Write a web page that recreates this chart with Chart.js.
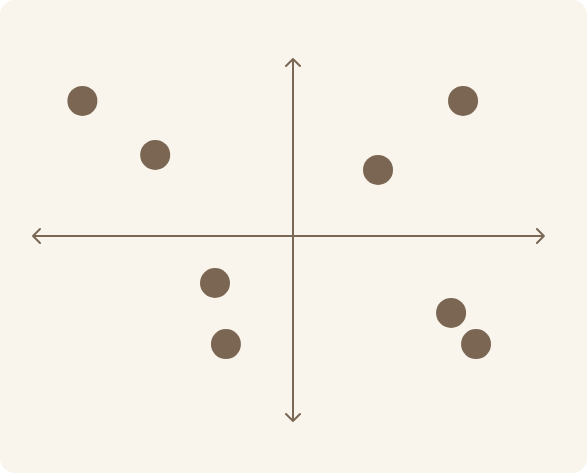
<!DOCTYPE html>
<html>
<head>
<meta charset="utf-8">
<script src="https://cdn.jsdelivr.net/npm/chart.js@4"></script>
<style>
  html, body { margin: 0; padding: 0; background: #ffffff; }
  #wrap { width: 587px; height: 473px; background: #f9f4ec; border-radius: 15px; overflow: hidden; }
</style>
</head>
<body>
<div id="wrap"><canvas id="quadChart" width="587" height="473"></canvas></div>
<script>
// point positions in chart units
const pointX = [-8.1, -5.3, 3.27, 6.54, -3.0, -2.58, 6.08, 7.04];
const pointY = [7.3, 4.38, 3.57, 7.3, -2.54, -5.84, -4.16, -5.84];

// where the arrow tips of each axis end
const xAxisEnds = [-10, 9.65];
const yAxisEnds = [-10, 9.57];

const inkColor = '#7a6856';

const quadAxes = {
    id: 'quadAxes',
    beforeDatasetsDraw(chart) {
        const { ctx, scales: { x, y } } = chart;
        const x0 = x.getPixelForValue(0), y0 = y.getPixelForValue(0);
        const left = x.getPixelForValue(xAxisEnds[0]), right = x.getPixelForValue(xAxisEnds[1]);
        const bottom = y.getPixelForValue(yAxisEnds[0]), top = y.getPixelForValue(yAxisEnds[1]);
        const a = 7;
        ctx.save();
        ctx.strokeStyle = inkColor;
        ctx.lineWidth = 2;
        ctx.lineCap = 'round';
        ctx.lineJoin = 'round';
        ctx.beginPath();
        ctx.moveTo(left, y0); ctx.lineTo(right, y0);
        ctx.moveTo(x0, top); ctx.lineTo(x0, bottom);
        // arrow heads
        ctx.moveTo(left + a, y0 - a); ctx.lineTo(left, y0); ctx.lineTo(left + a, y0 + a);
        ctx.moveTo(right - a, y0 - a); ctx.lineTo(right, y0); ctx.lineTo(right - a, y0 + a);
        ctx.moveTo(x0 - a, top + a); ctx.lineTo(x0, top); ctx.lineTo(x0 + a, top + a);
        ctx.moveTo(x0 - a, bottom - a); ctx.lineTo(x0, bottom); ctx.lineTo(x0 + a, bottom - a);
        ctx.stroke();
        ctx.restore();
    }
};

const ctx = document.getElementById('quadChart').getContext('2d');
new Chart(ctx, {
    type: 'scatter',
    data: {
        datasets: [{
            data: pointX.map((v, i) => ({ x: v, y: pointY[i] })),
            backgroundColor: '#7a6652',
            borderWidth: 0,
            pointRadius: 15,
            pointHoverRadius: 15
        }]
    },
    options: {
        responsive: false,
        animation: false,
        layout: { padding: { left: 33, right: 34, top: 51, bottom: 52 } },
        plugins: { legend: { display: false }, tooltip: { enabled: false } },
        scales: {
            x: { display: false, min: -10, max: 10 },
            y: { display: false, min: -10, max: 10 }
        }
    },
    plugins: [quadAxes]
});
</script>
</body>
</html>
